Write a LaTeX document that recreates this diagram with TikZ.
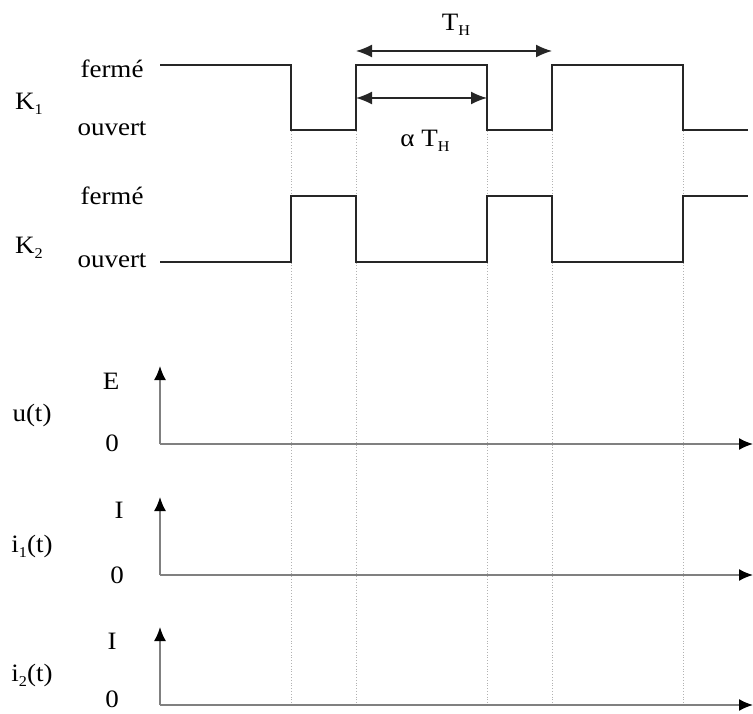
\documentclass[tikz,border=0pt]{standalone}
\usepackage{fontspec}
\setmainfont{Liberation Serif}
\usetikzlibrary{arrows.meta}
\newcommand{\lowsub}[1]{\raisebox{-0.45ex}{\fontsize{15}{17}\selectfont #1}}
\begin{document}
\begin{tikzpicture}[x=1pt,y=-1pt,
  lbl/.style={inner sep=0pt, font=\fontsize{25}{28}\selectfont, xscale=1.08},
  wave/.style={line width=1.7pt, black!85},
  axis/.style={line width=1.7pt, black!50, -{Latex[length=14pt,width=12pt,black]}},
  guide/.style={line width=0.8pt, black!30, dotted},
  dim/.style={line width=1.5pt, black!85, {Latex[length=16pt,width=13pt]}-{Latex[length=16pt,width=13pt]}}]
\useasboundingbox (0,0) rectangle (753,714);

% switching instants
\foreach \n/\x in {a/291, b/356, c/487, d/552, e/683} {
  \coordinate (t\n) at (\x,0);
}

% dotted guides down to the last time axis
\foreach \n in {a,b,c,d,e} {
  \draw[guide] (t\n |- 0,131) -- (t\n |- 0,705);
}

% switch K1
\draw[wave] (160,65) -- (291,65) -- (291,130) -- (356,130) -- (356,65)
  -- (487,65) -- (487,130) -- (552,130) -- (552,65) -- (683,65)
  -- (683,130) -- (748,130);
% switch K2
\draw[wave] (160,262) -- (291,262) -- (291,196) -- (356,196) -- (356,262)
  -- (487,262) -- (487,196) -- (552,196) -- (552,262) -- (683,262)
  -- (683,196) -- (748,196);

% period and duty-cycle dimensions
\coordinate (pA) at (356,51);
\coordinate (pB) at (552,51);
\coordinate (qA) at (356,98);
\coordinate (qB) at (487,98);
\draw[dim] (pA) -- (pB);
\draw[dim] (qA) -- (qB);
\node[lbl] (TH) at (456,25) {T\lowsub{H}};
\node[lbl] (aTH) at (425,141) {α T\lowsub{H}};

% switch labels
\node[lbl] (K1) at (29,104) {K\lowsub{1}};
\node[lbl] (K2) at (29,248) {K\lowsub{2}};
\node[lbl] (f1) at (112,69) {fermé};
\node[lbl] (o1) at (112,129) {ouvert};
\node[lbl] (f2) at (112,196) {fermé};
\node[lbl] (o2) at (112,261) {ouvert};

% time axes
\coordinate (uO) at (160,444);
\coordinate (uY) at (160,366);
\coordinate (uX) at (753,444);
\coordinate (aO) at (160,575);
\coordinate (aY) at (160,497);
\coordinate (aX) at (753,575);
\coordinate (bO) at (160,705);
\coordinate (bY) at (160,627);
\coordinate (bX) at (753,705);
\draw[axis] (uO) -- (uY);
\draw[axis] (uO) -- (uX);
\draw[axis] (aO) -- (aY);
\draw[axis] (aO) -- (aX);
\draw[axis] (bO) -- (bY);
\draw[axis] (bO) -- (bX);

% axis labels
\node[lbl] (uE) at (111,381) {E};
\node[lbl] (u0) at (112,443) {0};
\node[lbl] (u) at (32,415) {u(t)};
\node[lbl] (aI) at (119,510) {I};
\node[lbl] (a0) at (117,575) {0};
\node[lbl] (i1) at (32,546) {i\lowsub{1}(t)};
\node[lbl] (bI) at (112,641) {I};
\node[lbl] (b0) at (112,699) {0};
\node[lbl] (i2) at (32,675) {i\lowsub{2}(t)};
\end{tikzpicture}
\end{document}
